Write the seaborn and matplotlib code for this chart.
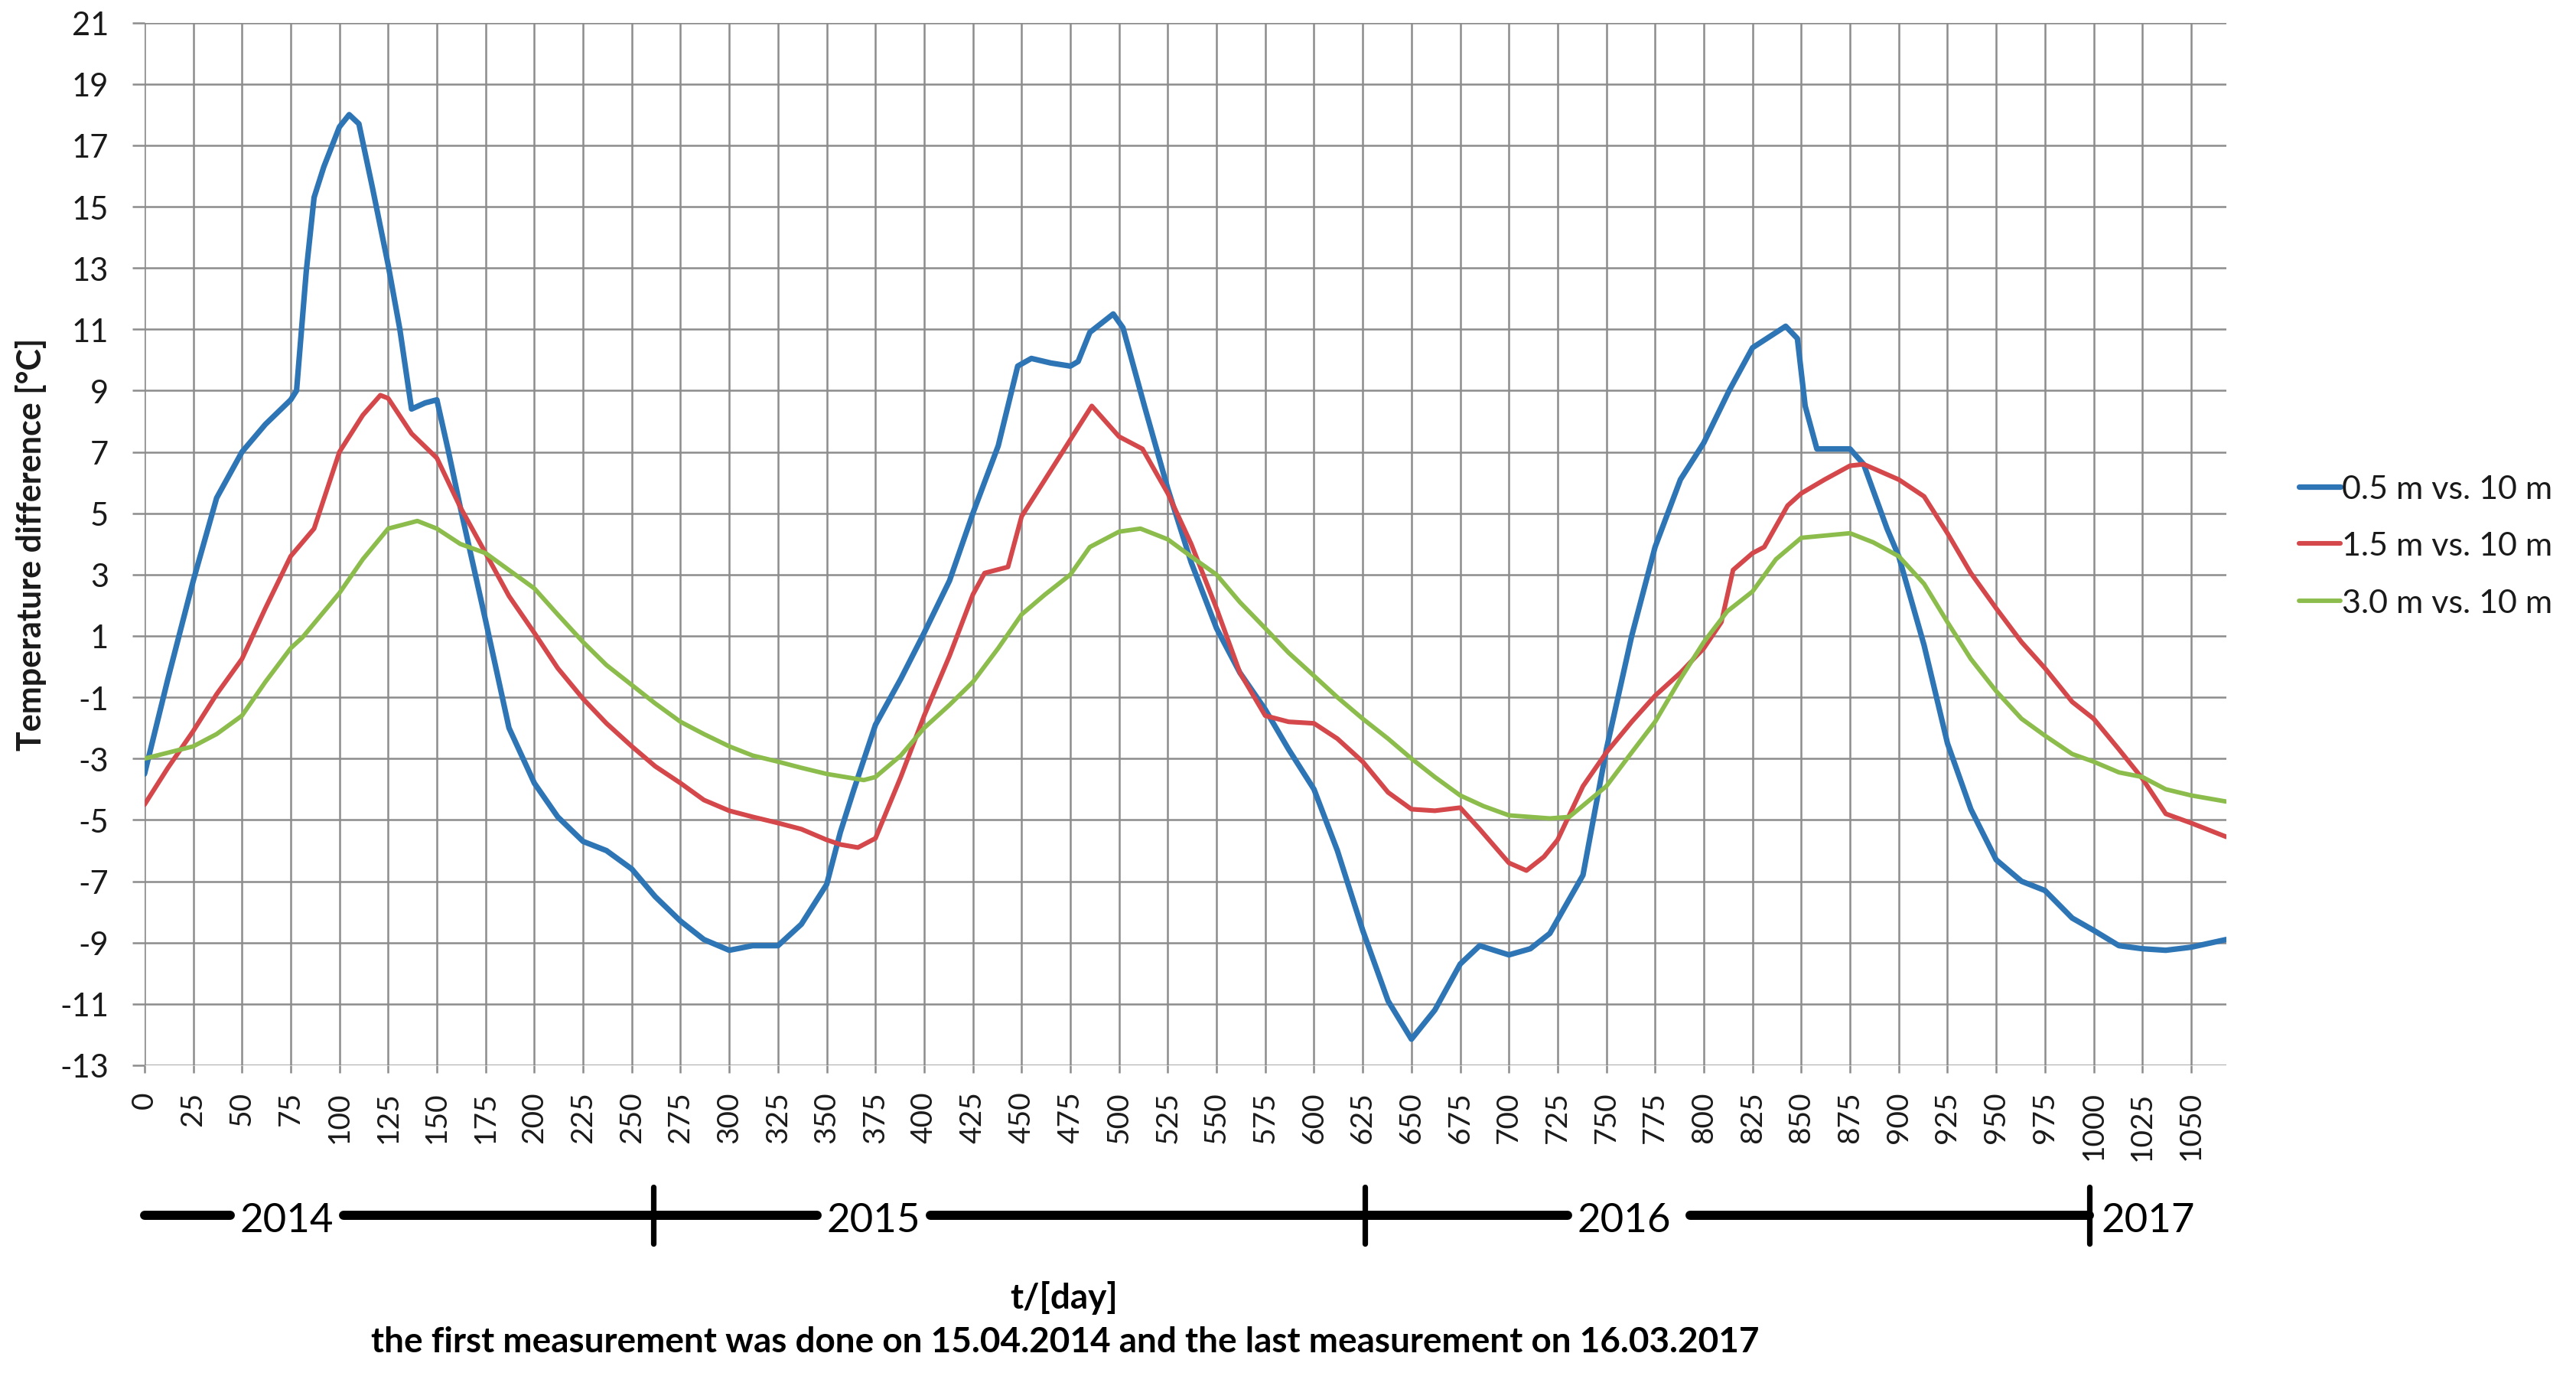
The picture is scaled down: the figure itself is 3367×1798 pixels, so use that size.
import numpy as np
import pandas as pd
import matplotlib
matplotlib.use("Agg")
import matplotlib.pyplot as plt
import matplotlib.transforms as mtransforms
import seaborn as sns

# --- DATA ---
days_05 = [0, 12, 25, 37, 50, 62, 75, 78, 83, 87, 92, 100, 105, 110, 117, 125, 131, 137, 144, 150,
           156, 162, 175, 187, 200, 212, 225, 237, 250, 262, 275, 287, 300, 312, 325, 337, 350, 357, 364, 375,
           388, 400, 413, 425, 438, 448, 455, 465, 475, 479, 485, 497, 502, 513, 525, 537, 550, 562, 575, 587,
           600, 612, 625, 638, 650, 662, 675, 685, 700, 711, 721, 738, 750, 763, 775, 788, 800, 813, 825, 842,
           848, 852, 858, 875, 882, 894, 900, 913, 925, 937, 950, 963, 975, 989, 1000, 1013, 1025, 1037, 1050, 1068]
temp_05 = [-3.5, -0.4, 2.8, 5.5, 7.0, 7.9, 8.7, 9.0, 12.9, 15.3, 16.3, 17.6, 18.0, 17.7, 15.6, 13.1, 11.0, 8.4, 8.6, 8.7,
           7.0, 5.2, 1.5, -2.0, -3.8, -4.9, -5.7, -6.0, -6.6, -7.5, -8.3, -8.9, -9.25, -9.1, -9.1, -8.4, -7.1, -5.4, -4.0, -1.9,
           -0.4, 1.1, 2.8, 5.0, 7.2, 9.8, 10.05, 9.9, 9.8, 9.95, 10.9, 11.5, 11.05, 8.5, 5.8, 3.4, 1.25, -0.2, -1.4, -2.7,
           -4.0, -6.0, -8.6, -10.9, -12.15, -11.2, -9.7, -9.1, -9.4, -9.2, -8.7, -6.8, -2.7, 1.0, 3.9, 6.1, 7.3, 9.0, 10.4, 11.1,
           10.7, 8.5, 7.1, 7.1, 6.6, 4.5, 3.6, 0.7, -2.5, -4.65, -6.3, -7.0, -7.3, -8.2, -8.6, -9.1, -9.2, -9.25, -9.15, -8.9]

days_15 = [0, 12, 25, 37, 50, 62, 75, 87, 100, 112, 121, 125, 137, 150, 162, 175, 187, 200, 212, 225,
           237, 250, 262, 275, 287, 300, 312, 325, 337, 350, 357, 366, 375, 388, 400, 413, 425, 431, 443, 450,
           462, 475, 486, 500, 512, 525, 537, 550, 562, 575, 587, 600, 612, 625, 638, 650, 662, 675, 685, 700,
           709, 718, 725, 738, 750, 763, 775, 788, 800, 809, 815, 825, 831, 843, 850, 862, 875, 882, 900, 913,
           925, 937, 950, 963, 975, 989, 1000, 1013, 1025, 1037, 1050, 1068]
temp_15 = [-4.5, -3.3, -2.1, -0.9, 0.25, 1.9, 3.6, 4.5, 7.0, 8.2, 8.85, 8.75, 7.6, 6.8, 5.2, 3.7, 2.3, 1.1, -0.05, -1.05,
           -1.85, -2.6, -3.25, -3.8, -4.35, -4.7, -4.9, -5.1, -5.3, -5.65, -5.8, -5.9, -5.6, -3.6, -1.6, 0.35, 2.35, 3.05, 3.25, 4.9,
           6.1, 7.4, 8.5, 7.5, 7.1, 5.65, 4.0, 1.9, -0.2, -1.6, -1.8, -1.85, -2.35, -3.1, -4.1, -4.65, -4.7, -4.6, -5.3, -6.4,
           -6.65, -6.2, -5.65, -3.9, -2.8, -1.8, -0.95, -0.2, 0.6, 1.45, 3.15, 3.7, 3.9, 5.25, 5.65, 6.1, 6.55, 6.6, 6.1, 5.55,
           4.35, 3.05, 1.9, 0.8, -0.05, -1.15, -1.7, -2.7, -3.65, -4.8, -5.1, -5.55]

days_30 = [0, 25, 37, 50, 62, 75, 81, 100, 112, 125, 140, 150, 162, 175, 200, 212, 225, 237, 250, 262,
           275, 287, 300, 312, 325, 337, 350, 369, 375, 388, 400, 413, 425, 438, 450, 462, 475, 485, 500, 511,
           525, 540, 550, 562, 575, 587, 600, 612, 625, 638, 650, 662, 675, 687, 700, 721, 731, 750, 763, 775,
           788, 800, 812, 825, 837, 850, 875, 887, 900, 913, 925, 937, 950, 963, 975, 989, 1000, 1013, 1025, 1037,
           1050, 1068]
temp_30 = [-3.0, -2.6, -2.2, -1.6, -0.5, 0.6, 0.95, 2.4, 3.5, 4.5, 4.75, 4.5, 4.0, 3.7, 2.55, 1.7, 0.8, 0.05, -0.6, -1.2,
           -1.8, -2.2, -2.6, -2.9, -3.1, -3.3, -3.5, -3.7, -3.6, -2.9, -2.0, -1.25, -0.5, 0.6, 1.7, 2.35, 3.0, 3.9, 4.4, 4.5,
           4.15, 3.45, 3.0, 2.1, 1.25, 0.45, -0.3, -1.0, -1.7, -2.35, -3.0, -3.6, -4.2, -4.55, -4.85, -4.95, -4.9, -3.9, -2.8, -1.8,
           -0.4, 0.8, 1.8, 2.45, 3.5, 4.2, 4.35, 4.05, 3.6, 2.7, 1.45, 0.25, -0.8, -1.7, -2.25, -2.85, -3.1, -3.45, -3.6, -4.0,
           -4.2, -4.4]

series_names = ["0.5 m vs. 10 m", "1.5 m vs. 10 m", "3.0 m vs. 10 m"]
series_colors = ["#2e75b6", "#d4474a", "#8cbd4c"]
series_widths = [2.6, 2.2, 2.1]

x_ticks = list(range(0, 1051, 25))
y_ticks = list(range(-13, 22, 2))

year_labels = ["2014", "2015", "2016", "2017"]
year_label_days = [73, 374, 759, 1028]
year_change_days = [261, 626, 998]

df = pd.concat([
    pd.DataFrame({"day": d, "diff": t, "series": n})
    for d, t, n in zip([days_05, days_15, days_30], [temp_05, temp_15, temp_30], series_names)
], ignore_index=True)

# --- STYLE ---
sns.set_theme(style="whitegrid")
plt.rcParams['font.family'] = ['Lato', 'DejaVu Sans']
plt.rcParams['axes.unicode_minus'] = False

fig = plt.figure(figsize=(16.835, 8.995), dpi=200)
ax = fig.add_axes([0.0561, 0.2257, 0.8081, 0.7573])

sns.lineplot(data=df, x="day", y="diff", hue="series", hue_order=series_names,
             palette=dict(zip(series_names, series_colors)), estimator=None, sort=False,
             legend=False, ax=ax)
for line, lw in zip(ax.lines, series_widths):
    line.set_linewidth(lw)
    line.set_solid_joinstyle("round")

ax.set_xlim(0, 1068)
ax.set_ylim(-13, 21)
ax.set_xticks(x_ticks)
ax.set_yticks(y_ticks)
ax.set_facecolor("white")
ax.grid(True, color="#8c8c8c", linewidth=0.9)
for s in ax.spines.values():
    s.set_visible(False)

ax.tick_params(axis="y", which="both", left=True, length=5.8, width=0.9, color="#8c8c8c",
               pad=11, labelsize=15, labelcolor="#1a1a1a")
ax.tick_params(axis="x", which="both", bottom=True, length=3.5, width=0.9, color="#8c8c8c",
               pad=8.5, labelsize=14, labelcolor="#1a1a1a", labelrotation=90)

ax.set_xlabel("")
ax.set_ylabel("Temperature difference [°C]", fontsize=15.5, fontweight="bold", color="#1a1a1a")
ax.yaxis.set_label_coords(-0.047, 0.5)

# --- LEGEND ---
handles = ax.lines[:3]
fig.legend(handles, series_names, loc="center left", bbox_to_anchor=(0.881, 0.603),
           frameon=False, fontsize=15.5, handlelength=1.25, handletextpad=0.05,
           labelspacing=0.85, labelcolor="#1a1a1a")

# --- YEAR TIMELINE UNDER THE AXIS ---
trans = mtransforms.blended_transform_factory(ax.transData, ax.transAxes)
y_tl = -0.144
gap = 29
# black bar broken around each year label; last piece ends at the 2017 marker
seg_start = [0] + [c + gap for c in year_label_days[:2]] + [year_label_days[2] + gap + 5]
seg_end = [c - gap for c in year_label_days[:3]] + [year_change_days[-1]]
for a, b in zip(seg_start, seg_end):
    ax.plot([a, b], [y_tl, y_tl], transform=trans, clip_on=False, color="black",
            lw=4.3, solid_capstyle="round")
for d in year_change_days:
    ax.plot([d, d], [y_tl - 0.027, y_tl + 0.027], transform=trans, clip_on=False,
            color="black", lw=2.6)
for lab, c in zip(year_labels, year_label_days):
    ax.text(c, y_tl - 0.005, lab, transform=trans, ha="center", va="center",
            fontsize=19, color="black")

fig.text(0.413, 1 - 1696 / 1799, "t/[day]", ha="center", va="center",
         fontsize=16.5, fontweight="bold", color="black")
fig.text(0.4135, 1 - 1754 / 1799,
         "the first measurement was done on 15.04.2014 and the last measurement on 16.03.2017",
         ha="center", va="center", fontsize=16.5, fontweight="bold", color="black")

fig.savefig("out.png", dpi=200, facecolor="white")
